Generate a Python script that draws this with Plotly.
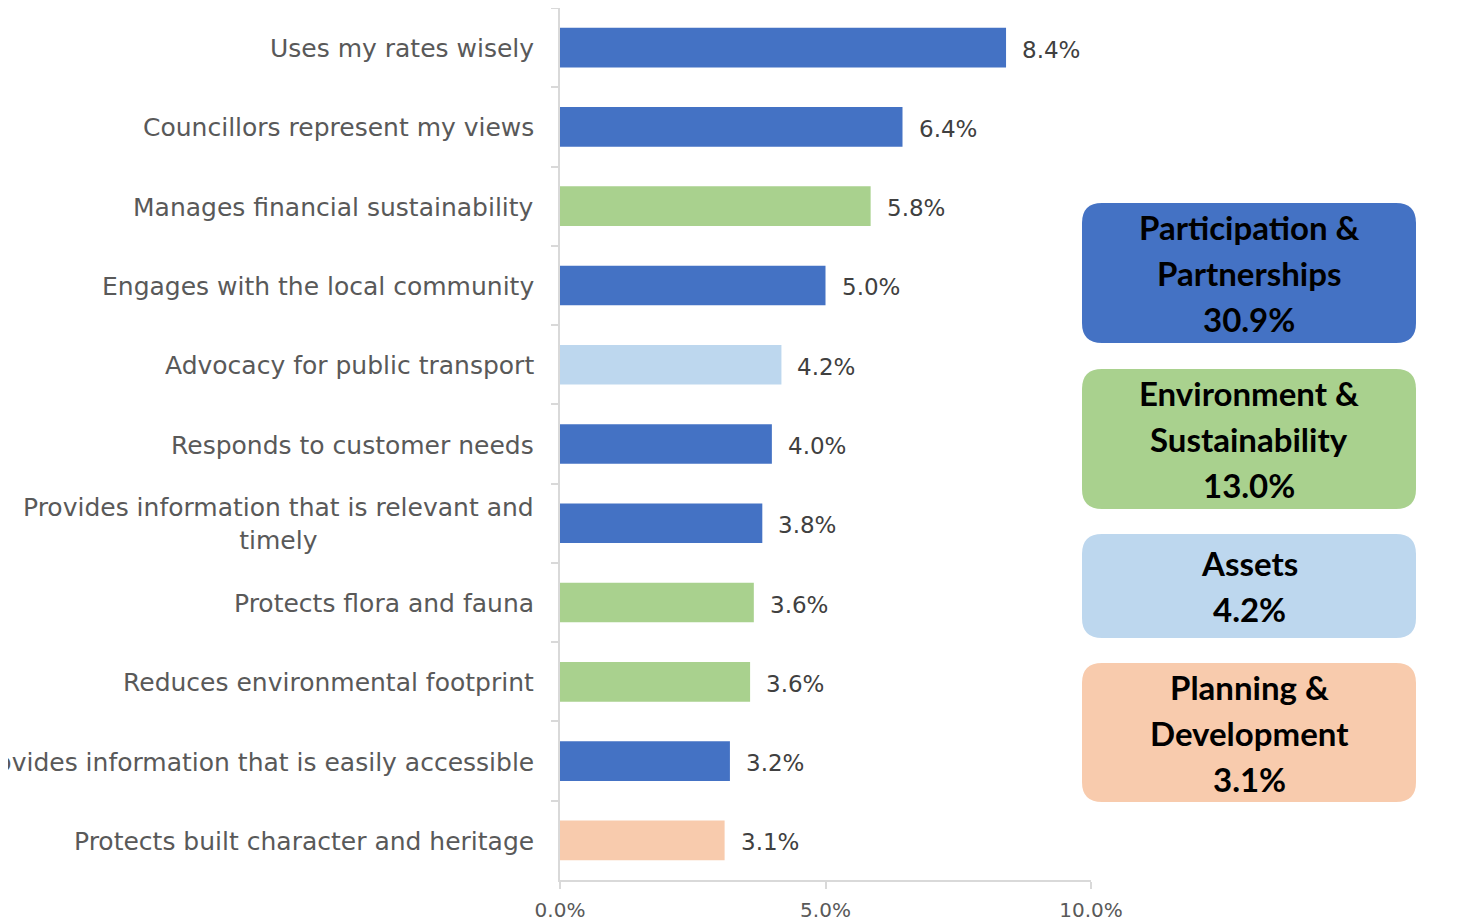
import plotly.graph_objects as go

# ---- data ----
categories = [
    "Uses my rates wisely",
    "Councillors represent my views",
    "Manages financial sustainability",
    "Engages with the local community",
    "Advocacy for public transport",
    "Responds to customer needs",
    "Provides information that is relevant and<br>timely",
    "Protects flora and fauna",
    "Reduces environmental footprint",
    "Provides information that is easily accessible",
    "Protects built character and heritage",
]
values = [8.4, 6.45, 5.85, 5.0, 4.17, 3.99, 3.81, 3.65, 3.58, 3.2, 3.1]
value_labels = ["8.4%", "6.4%", "5.8%", "5.0%", "4.2%", "4.0%", "3.8%", "3.6%", "3.6%", "3.2%", "3.1%"]
groups = ["P", "P", "E", "P", "A", "P", "P", "E", "E", "P", "D"]

group_keys = ["P", "E", "A", "D"]
group_names = [["Participation &", "Partnerships"], ["Environment &", "Sustainability"], ["Assets"], ["Planning &", "Development"]]
group_totals = ["30.9%", "13.0%", "4.2%", "3.1%"]
group_colors = {"P": "#4472C4", "E": "#A9D18E", "A": "#BDD7EE", "D": "#F8CBAD"}

x_ticks = [0, 5, 10]
x_tick_labels = ["0.0%", "5.0%", "10.0%"]

# ---- layout geometry (pixels, figure coordinates; page has 8px body offset) ----
OFF = 8
W, H = 1473, 923
L, R, T, B = 560 - OFF, 1473 - (1091 - OFF), 0, 923 - (880 - OFF)
PW, PH = W - L - R, H - T - B

def px2paper(x, y):
    # x, y given in page pixels
    x -= OFF
    y -= OFF
    return (x - L) / PW, (H - B - y) / PH

def rounded_rect(x0, y0, x1, y1, r):
    def P(x, y):
        px, py = px2paper(x, y)
        return f"{px:.5f},{py:.5f}"
    return (
        f"M {P(x0 + r, y0)} L {P(x1 - r, y0)} Q {P(x1, y0)} {P(x1, y0 + r)} "
        f"L {P(x1, y1 - r)} Q {P(x1, y1)} {P(x1 - r, y1)} "
        f"L {P(x0 + r, y1)} Q {P(x0, y1)} {P(x0, y1 - r)} "
        f"L {P(x0, y0 + r)} Q {P(x0, y0)} {P(x0 + r, y0)} Z"
    )

FONT = "DejaVu Sans"
BOLD_FONT = "Lato"
GREY = "#595959"

fig = go.Figure()
fig.add_trace(go.Bar(
    x=values, y=categories, orientation="h",
    marker=dict(color=[group_colors[g] for g in groups], line=dict(width=0)),
    hoverinfo="skip",
))

annotations = []
# category labels
for cat in categories:
    annotations.append(dict(
        x=0, y=cat, xref="x", yref="y", text=cat, showarrow=False,
        xanchor="right", xshift=-24, yshift=-1, align="center",
        font=dict(family=FONT, size=25, color=GREY),
    ))
# value labels
for cat, v, lab in zip(categories, values, value_labels):
    annotations.append(dict(
        x=v, y=cat, xref="x", yref="y", text=lab, showarrow=False,
        xanchor="left", xshift=14, yshift=-2,
        font=dict(family=FONT, size=23, color="#404040"),
    ))

# legend boxes
boxes = [(203, 343), (369, 509), (534, 638), (663, 802)]
shapes = []
for key, names, total, (y0, y1) in zip(group_keys, group_names, group_totals, boxes):
    shapes.append(dict(
        type="path", xref="paper", yref="paper",
        path=rounded_rect(1082, y0, 1416, y1, 20),
        fillcolor=group_colors[key], line=dict(width=0), layer="below",
    ))
    lines = names + [total]
    n = len(lines)
    cy = (y0 + y1) / 2
    for i, t in enumerate(lines):
        ly = cy + (i - (n - 1) / 2) * 46
        px, py = px2paper(1249, ly)
        annotations.append(dict(
            x=px, y=py, xref="paper", yref="paper", text=f"<b>{t}</b>",
            showarrow=False, xanchor="center", yanchor="middle",
            font=dict(family=BOLD_FONT, size=33, color="#000000"),
        ))

fig.update_layout(
    width=W, height=H,
    margin=dict(l=L, r=R, t=T, b=B, autoexpand=False),
    paper_bgcolor="white", plot_bgcolor="white",
    showlegend=False, bargap=0.5,
    annotations=annotations, shapes=shapes,
    xaxis=dict(
        range=[0, 10], tickvals=x_ticks, ticktext=x_tick_labels,
        showgrid=False, zeroline=False, showline=True, linecolor="#D9D9D9", linewidth=2,
        ticks="outside", ticklen=7, tickwidth=2, tickcolor="#D9D9D9",
        tickfont=dict(family=FONT, size=20, color=GREY), automargin=False,
        ticklabelstandoff=4,
    ),
    yaxis=dict(
        autorange="reversed", showticklabels=False, showgrid=False, zeroline=False,
        showline=True, linecolor="#D9D9D9", linewidth=2,
        ticks="outside", ticklen=7, tickwidth=2, tickcolor="#D9D9D9",
        tickson="boundaries", automargin=False,
    ),
)

fig.write_html("out.html")
